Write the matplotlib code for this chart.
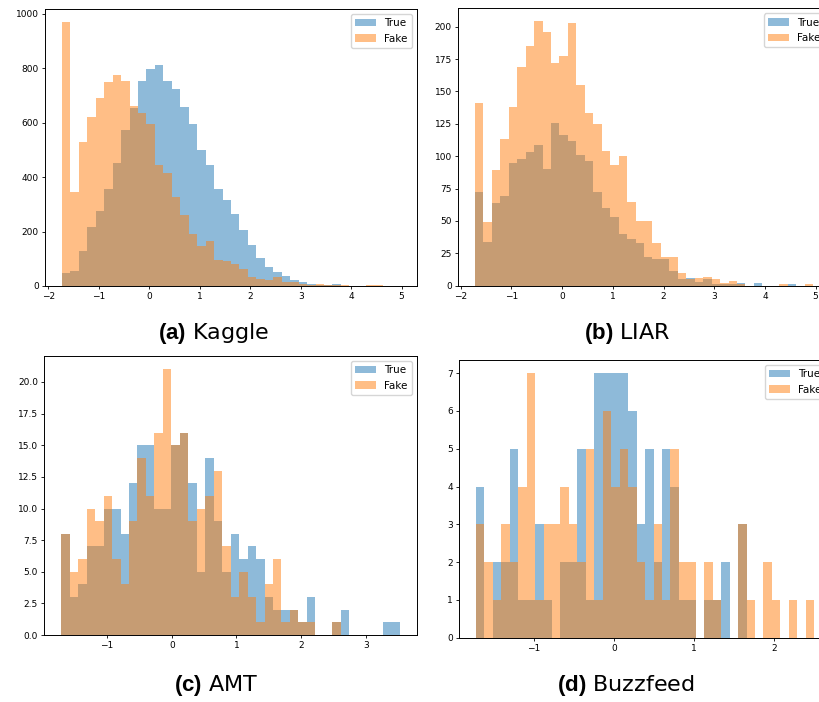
import numpy as np
import matplotlib
matplotlib.use("Agg")
import matplotlib.pyplot as plt
from matplotlib.ticker import MultipleLocator

plt.rcParams['mathtext.fontset'] = 'custom'
plt.rcParams['mathtext.bf'] = 'Liberation Sans:bold'
plt.rcParams['mathtext.rm'] = 'Liberation Sans'

# 40 bins per dataset, (min, max) of the standardised values
kaggle_range = (-1.73, 4.97)
kaggle_true = [48, 54, 127, 215, 275, 355, 452, 573, 652, 753,
               796, 810, 753, 725, 657, 596, 498, 443, 357, 317,
               266, 204, 149, 104, 70, 51, 38, 23, 15, 6,
               3, 4, 6, 1, 1, 0, 0, 0, 0, 1]
kaggle_fake = [969, 344, 529, 620, 692, 750, 775, 753, 660, 634,
               594, 444, 414, 327, 259, 192, 147, 164, 97, 91,
               82, 64, 33, 27, 21, 33, 15, 15, 6, 5,
               6, 2, 2, 4, 1, 0, 3, 3, 0, 0]

liar_range = (-1.72, 4.95)
liar_true = [72, 34, 64, 69, 95, 98, 103, 109, 90, 126,
             116, 112, 101, 96, 72, 60, 53, 40, 36, 33,
             22, 21, 21, 11, 5, 6, 3, 5, 1, 1,
             1, 2, 0, 2, 0, 0, 0, 1, 0, 0]
liar_fake = [141, 49, 89, 113, 138, 169, 185, 204, 196, 172,
             177, 203, 155, 133, 125, 104, 93, 100, 65, 50,
             50, 33, 22, 22, 10, 5, 6, 7, 5, 2,
             4, 1, 0, 0, 0, 0, 1, 0, 0, 1]

amt_range = (-1.71, 3.53)
amt_true = [8, 3, 4, 7, 7, 10, 10, 8, 12, 15,
            15, 10, 10, 15, 16, 12, 5, 14, 9, 5,
            8, 6, 7, 6, 3, 2, 2, 2, 1, 3,
            0, 0, 1, 2, 0, 0, 0, 0, 1, 1]
amt_fake = [8, 5, 6, 10, 9, 11, 6, 4, 9, 14,
            11, 16, 21, 15, 16, 9, 10, 11, 13, 7,
            3, 5, 3, 1, 4, 6, 1, 2, 1, 1,
            0, 0, 1, 0, 0, 0, 0, 0, 0, 0]

buzz_range = (-1.72, 2.50)
buzz_true = [4, 0, 2, 2, 5, 1, 1, 3, 1, 0,
             2, 2, 5, 1, 7, 7, 7, 7, 6, 3,
             5, 2, 5, 4, 1, 1, 0, 1, 1, 2,
             0, 3, 0, 0, 0, 0, 0, 0, 0, 0]
buzz_fake = [3, 2, 1, 3, 2, 4, 7, 1, 3, 3,
             4, 3, 2, 5, 1, 6, 4, 5, 4, 2,
             1, 3, 1, 5, 2, 2, 0, 2, 1, 0,
             0, 3, 1, 0, 2, 1, 0, 1, 0, 1]


def draw_hist(ax, rng, true_counts, fake_counts, ystep):
    edges = np.linspace(rng[0], rng[1], len(true_counts) + 1)
    centers = (edges[:-1] + edges[1:]) / 2
    ax.hist(centers, bins=edges, weights=true_counts, alpha=0.5, label="True")
    ax.hist(centers, bins=edges, weights=fake_counts, alpha=0.5, label="Fake")
    ax.legend(loc="upper right", fontsize=7.5)
    ax.xaxis.set_major_locator(MultipleLocator(1))
    ax.yaxis.set_major_locator(MultipleLocator(ystep))
    ax.tick_params(labelsize=6.5, length=2.5, width=0.6, pad=2)
    for s in ax.spines.values():
        s.set_linewidth(0.7)


fig = plt.figure(figsize=(8.2, 7.02), dpi=100)

# panels (b) and (d) run past the right edge, as in the original layout
ax_a = fig.add_axes([0.0549, 0.5926, 0.4537, 0.3946])
ax_b = fig.add_axes([0.5585, 0.5930, 0.4537, 0.3952])
ax_c = fig.add_axes([0.0540, 0.0954, 0.4545, 0.3974])
ax_d = fig.add_axes([0.5598, 0.0916, 0.4537, 0.3956])

draw_hist(ax_a, kaggle_range, kaggle_true, kaggle_fake, 200)
draw_hist(ax_b, liar_range, liar_true, liar_fake, 25)
draw_hist(ax_c, amt_range, amt_true, amt_fake, 2.5)
draw_hist(ax_d, buzz_range, buzz_true, buzz_fake, 1)

# captions under each panel
fig.text(214 / 820, 1 - 333 / 702, r"$\mathbf{(a)}$ Kaggle", ha="center", va="center", fontsize=16)
fig.text(627 / 820, 1 - 333 / 702, r"$\mathbf{(b)}$ LIAR", ha="center", va="center", fontsize=16)
fig.text(216 / 820, 1 - 686 / 702, r"$\mathbf{(c)}$ AMT", ha="center", va="center", fontsize=16)
fig.text(626 / 820, 1 - 686 / 702, r"$\mathbf{(d)}$ Buzzfeed", ha="center", va="center", fontsize=16)

fig.savefig("out.png", dpi=100)
